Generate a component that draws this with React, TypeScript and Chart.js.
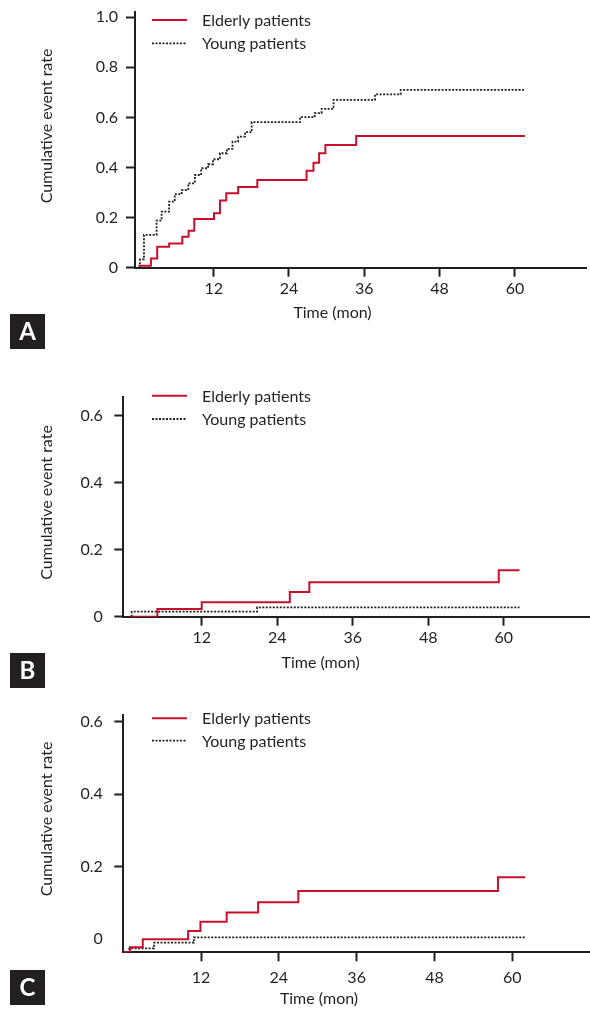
import React, { useEffect, useRef } from 'react';
import { Chart, registerables } from 'chart.js';

Chart.register(...registerables);

const FONT = 'Lato, "Noto Sans", sans-serif';
const INK = '#231f20';
const RED = '#c8102e';

// ---------- Panel A ----------
const aElderlyMonths = [0, 2.0, 3.0, 4.9, 7.0, 8.0, 8.9, 12.05, 13.0, 14.0, 15.9, 18.95, 26.8, 27.9, 28.8, 29.8, 34.7, 61.6];
const aElderlyRates = [0.008, 0.037, 0.084, 0.097, 0.124, 0.148, 0.194, 0.217, 0.268, 0.297, 0.322, 0.35, 0.387, 0.419, 0.457, 0.49, 0.526, 0.526];
const aYoungMonths = [0.25, 0.25, 0.89, 2.9, 3.7, 4.9, 5.8, 6.9, 7.95, 9.0, 10.0, 11.1, 11.9, 13.0, 14.1, 15.0, 15.9, 17.0, 18.05, 25.75, 28.1, 29.2, 31.1, 37.7, 41.8, 61.6];
const aYoungRates = [0, 0.033, 0.131, 0.188, 0.224, 0.264, 0.294, 0.31, 0.337, 0.37, 0.397, 0.413, 0.433, 0.457, 0.474, 0.503, 0.523, 0.541, 0.581, 0.601, 0.617, 0.634, 0.67, 0.692, 0.71, 0.71];
const aYTicks = [0, 0.2, 0.4, 0.6, 0.8, 1.0];
const aYTickLabels = ['0', '0.2', '0.4', '0.6', '0.8', '1.0'];

// ---------- Panel B ----------
const bElderlyMonths = [0.5, 4.95, 12.0, 26.0, 29.1, 59.2, 62.5];
const bElderlyRates = [0, 0.023, 0.043, 0.074, 0.103, 0.139, 0.139];
const bYoungMonths = [0.87, 0.87, 20.8, 62.5];
const bYoungRates = [0, 0.015, 0.028, 0.028];

// ---------- Panel C ----------
const cElderlyMonths = [0, 1.03, 3.0, 10.0, 11.9, 15.95, 20.8, 27.0, 57.8, 62];
const cElderlyRates = [-0.036, -0.022, 0.0, 0.023, 0.048, 0.074, 0.102, 0.133, 0.171, 0.171];
const cYoungMonths = [0.2, 0.93, 4.75, 10.9, 62];
const cYoungRates = [-0.036, -0.025, -0.0096, 0.005, 0.005];

const bcYTicks = [0, 0.2, 0.4, 0.6];
const bcYTickLabels = ['0', '0.2', '0.4', '0.6'];
const xTicks = [12, 24, 36, 48, 60];
const xTickLabels = ['12', '24', '36', '48', '60'];

const seriesNames = ['Elderly patients', 'Young patients'];
const yTitle = 'Cumulative event rate';
const xTitle = 'Time (mon)';

const toPoints = (xs: number[], ys: number[]) => xs.map((x, i) => ({ x, y: ys[i] }));

const decorPlugin = {
  id: 'panelDecor',
  afterDraw(chart: any, _args: any, opts: any) {
    const ctx = chart.ctx as CanvasRenderingContext2D;
    const t = opts.canvasTop;
    ctx.save();
    ctx.fillStyle = INK;
    ctx.font = `16px ${FONT}`;
    ctx.textAlign = 'center';
    ctx.textBaseline = 'middle';
    // y title
    ctx.save();
    ctx.translate(opts.yTitleX, opts.yTitleY - t);
    ctx.rotate(-Math.PI / 2);
    ctx.fillText(yTitle, 0, 0);
    ctx.restore();
    // x title
    ctx.fillText(xTitle, opts.xTitleX, opts.xTitleY - t);
    // legend
    chart.data.datasets.forEach((ds: any, i: number) => {
      const y = opts.legendY[i] - t;
      ctx.save();
      ctx.strokeStyle = ds.borderColor;
      ctx.lineWidth = ds.borderWidth;
      ctx.setLineDash(ds.borderDash || []);
      ctx.beginPath();
      ctx.moveTo(152, y);
      ctx.lineTo(187, y);
      ctx.stroke();
      ctx.restore();
      ctx.fillStyle = INK;
      ctx.textAlign = 'left';
      ctx.fillText(ds.label, 202, y + 1);
    });
    // panel letter box
    ctx.fillStyle = INK;
    ctx.fillRect(10, opts.boxY - t, 35, 35);
    ctx.fillStyle = '#ffffff';
    ctx.font = `bold 24px ${FONT}`;
    ctx.textAlign = 'center';
    ctx.fillText(opts.letter, 27.5, opts.boxY - t + 18.5);
    ctx.restore();
  },
};

type Panel = {
  letter: string;
  canvasTop: number;
  canvasH: number;
  area: { left: number; top: number; right: number; bottom: number };
  xMin: number; xMax: number; yMin: number; yMax: number;
  yTicks: number[]; yTickLabels: string[];
  yPad: number; xPad: number; hideZeroTick: boolean;
  elderly: { x: number; y: number }[];
  young: { x: number; y: number }[];
  yTitleX: number; yTitleY: number; xTitleX: number; xTitleY: number;
  legendY: number[]; boxY: number;
};

const panels: Panel[] = [
  {
    letter: 'A', canvasTop: -30, canvasH: 380,
    area: { left: 135, top: 11.7, right: 586.7, bottom: 267.7 },
    xMin: -0.54, xMax: 71.44, yMin: 0, yMax: 1.022,
    yTicks: aYTicks, yTickLabels: aYTickLabels, yPad: 8, xPad: 3, hideZeroTick: false,
    elderly: toPoints(aElderlyMonths, aElderlyRates), young: toPoints(aYoungMonths, aYoungRates),
    yTitleX: 46.5, yTitleY: 126, xTitleX: 332.5, xTitleY: 313.3, legendY: [20, 43.3], boxY: 314,
  },
  {
    letter: 'B', canvasTop: 320, canvasH: 370,
    area: { left: 123.3, top: 396.7, right: 590, bottom: 616.7 },
    xMin: -0.46, xMax: 73.7, yMin: 0, yMax: 0.657,
    yTicks: bcYTicks, yTickLabels: bcYTickLabels, yPad: 11.5, xPad: 3, hideZeroTick: false,
    elderly: toPoints(bElderlyMonths, bElderlyRates), young: toPoints(bYoungMonths, bYoungRates),
    yTitleX: 47, yTitleY: 502.5, xTitleX: 320.6, xTitleY: 663.3, legendY: [395.7, 419], boxY: 653,
  },
  {
    letter: 'C', canvasTop: 660, canvasH: 350,
    area: { left: 123.3, top: 715, right: 590, bottom: 952.3 },
    xMin: 0, xMax: 72.0, yMin: -0.036, yMax: 0.618,
    yTicks: bcYTicks, yTickLabels: bcYTickLabels, yPad: 11.5, xPad: 7, hideZeroTick: true,
    elderly: toPoints(cElderlyMonths, cElderlyRates), young: toPoints(cYoungMonths, cYoungRates),
    yTitleX: 47, yTitleY: 819, xTitleX: 319, xTitleY: 999.3, legendY: [718.3, 740.7], boxY: 970,
  },
];

function PanelChart({ p }: { p: Panel }) {
  const ref = useRef<HTMLCanvasElement | null>(null);
  useEffect(() => {
    if (!ref.current) return;
    const xAxisH = p.canvasTop + p.canvasH - p.area.bottom;
    const chart = new Chart(ref.current, {
      type: 'line',
      data: {
        datasets: [
          {
            label: seriesNames[0], data: p.elderly, stepped: true,
            borderColor: RED, borderWidth: 2, pointRadius: 0, fill: false,
          },
          {
            label: seriesNames[1], data: p.young, stepped: true,
            borderColor: INK, borderWidth: 1.8, borderDash: [2, 1.5], pointRadius: 0, fill: false,
          },
        ],
      },
      options: {
        animation: false,
        responsive: false,
        devicePixelRatio: 1,
        layout: { padding: { left: 0, top: p.area.top - p.canvasTop, right: 590 - p.area.right, bottom: 0 } },
        plugins: {
          legend: { display: false },
          tooltip: { enabled: false },
          panelDecor: {
            canvasTop: p.canvasTop, letter: p.letter,
            yTitleX: p.yTitleX, yTitleY: p.yTitleY, xTitleX: p.xTitleX, xTitleY: p.xTitleY,
            legendY: p.legendY, boxY: p.boxY,
          },
        } as any,
        scales: {
          x: {
            type: 'linear', min: p.xMin, max: p.xMax,
            afterBuildTicks: (s: any) => { s.ticks = xTicks.map((v) => ({ value: v })); },
            afterFit: (s: any) => { s.height = xAxisH; },
            ticks: {
              color: INK, font: { family: FONT, size: 16 }, padding: p.xPad, maxRotation: 0,
              callback: (_v: any, i: number) => xTickLabels[i],
            },
            grid: { drawOnChartArea: false, drawTicks: true, tickLength: 9, tickWidth: 2, tickColor: INK },
            border: { display: true, color: INK, width: 2 },
          },
          y: {
            type: 'linear', min: p.yMin, max: p.yMax,
            afterBuildTicks: (s: any) => { s.ticks = p.yTicks.map((v) => ({ value: v })); },
            afterFit: (s: any) => { s.width = p.area.left; },
            ticks: {
              color: INK, font: { family: FONT, size: 16 }, padding: p.yPad,
              callback: (_v: any, i: number) => p.yTickLabels[i],
            },
            grid: {
              drawOnChartArea: false, drawTicks: true, tickLength: 9, tickWidth: 2,
              tickColor: (c: any) => (p.hideZeroTick && c.tick && c.tick.value === 0 ? 'rgba(0,0,0,0)' : INK),
            },
            border: { display: true, color: INK, width: 2 },
          },
        },
      } as any,
      plugins: [decorPlugin as any],
    });
    return () => chart.destroy();
  }, [p]);
  return (
    <canvas
      ref={ref}
      width={590}
      height={p.canvasH}
      style={{ position: 'absolute', left: 0, top: p.canvasTop, width: 590, height: p.canvasH }}
    />
  );
}

export default function App() {
  return (
    <div style={{ position: 'absolute', left: 0, top: 0, width: 590, height: 1010, overflow: 'hidden', background: '#ffffff' }}>
      {panels.map((p) => (
        <PanelChart key={p.letter} p={p} />
      ))}
    </div>
  );
}
